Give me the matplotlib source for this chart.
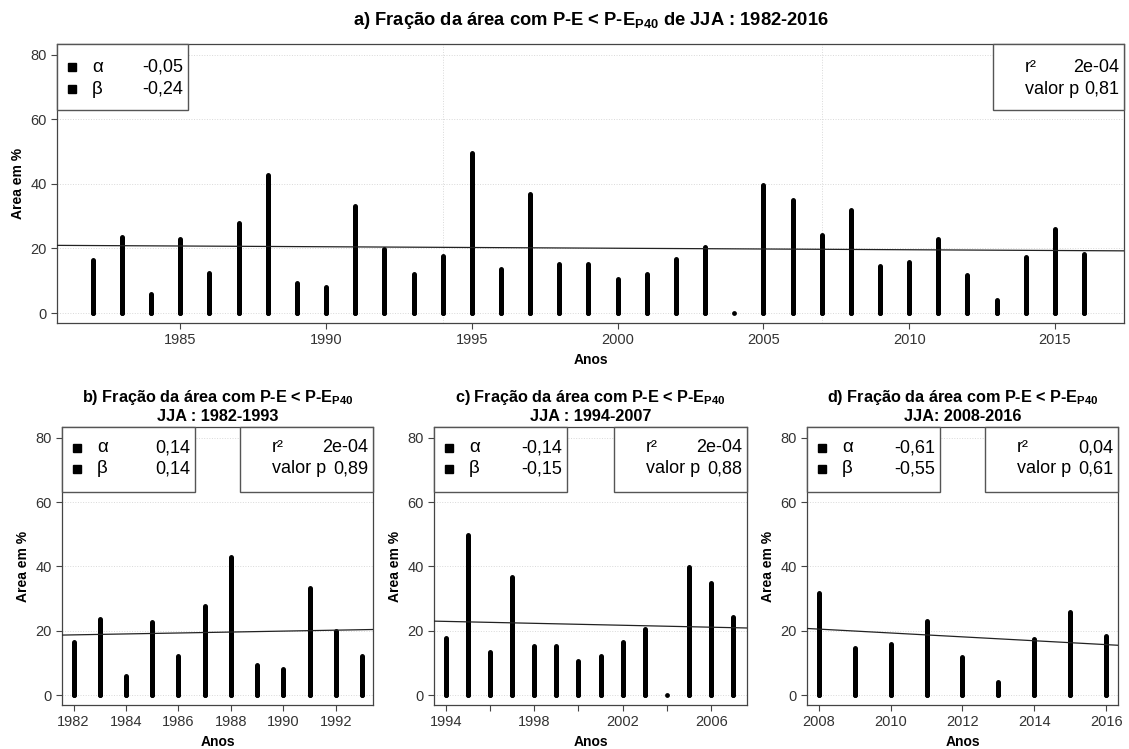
import numpy as np
import matplotlib
matplotlib.use('Agg')
import matplotlib.pyplot as plt
from matplotlib.patches import Rectangle

plt.rcParams['font.family'] = ['Liberation Sans', 'DejaVu Sans']
plt.rcParams['mathtext.fontset'] = 'custom'
plt.rcParams['mathtext.rm'] = 'Liberation Sans'
plt.rcParams['mathtext.bf'] = 'Liberation Sans:bold'

# Fraction of area (%) per year, JJA
anos = np.arange(1982, 2017)
area = np.array([16.4, 23.7, 5.9, 22.8, 12.3, 27.8, 42.8, 9.2, 8.2, 33.3, 19.9, 12.0,
                 17.8, 49.7, 13.5, 36.8, 15.3, 15.2, 10.6, 12.2, 16.6, 20.5, 0.0,
                 39.7, 35.0, 24.2,
                 31.9, 14.6, 15.9, 23.0, 11.8, 4.0, 17.5, 25.9, 18.3])

# sub-periods
periodos = [(1982, 2016), (1982, 1993), (1994, 2007), (2008, 2016)]
titulos = [
    r'a) Fração da área com P-E < P-E$_{\mathbf{P40}}$ de JJA : 1982-2016',
    'b) Fração da área com P-E < P-E$_{\\mathbf{P40}}$\nJJA : 1982-1993',
    'c) Fração da área com P-E < P-E$_{\\mathbf{P40}}$\nJJA : 1994-2007',
    'd) Fração da área com P-E < P-E$_{\\mathbf{P40}}$\nJJA: 2008-2016',
]
alfa = ['-0,05', '0,14', '-0,14', '-0,61']
beta = ['-0,24', '0,14', '-0,15', '-0,55']
r2 = ['2e-04', '2e-04', '2e-04', '0,04']
valor_p = ['0,81', '0,89', '0,88', '0,61']
xlims = [(1980.77, 2017.37), (1981.56, 1993.42), (1993.47, 2007.62), (2007.68, 2016.32)]
xticks = [np.arange(1985, 2016, 5), np.arange(1982, 1993, 2),
          np.arange(1994, 2008, 2), np.arange(2008, 2017, 2)]

W, H = 1129, 749
fig = plt.figure(figsize=(W / 100, H / 100), dpi=100)

# axes boxes in pixels: left, top, right, bottom
caixas = [(57, 44, 1124, 323), (62, 427, 373, 705), (434, 427, 747, 705), (807, 427, 1118, 705)]

grey = '#333333'


def legend_boxes(ax, wpx, hpx, i):
    bw, bh = (131, 66) if i == 0 else (133, 65)
    y0, dy = (23, 22) if i == 0 else (21, 20.5)
    sx = lambda p: p / wpx
    sy = lambda p: 1 - p / hpx
    kw = dict(transform=ax.transAxes, fontsize=13, va='center', zorder=6)
    # left box: alpha / beta
    ax.add_patch(Rectangle((0, sy(bh)), sx(bw), bh / hpx, transform=ax.transAxes,
                           facecolor='white', edgecolor='#555555', lw=1, zorder=5,
                           clip_on=False))
    for row, (sym, val) in enumerate([('α', alfa[i]), ('β', beta[i])]):
        yy = sy(y0 + dy * row)
        ax.plot([sx(15)], [yy], marker='s', ms=5.5, color='black',
                transform=ax.transAxes, zorder=6, clip_on=False)
        ax.text(sx(35), yy, sym, ha='left', fontsize=13.5, transform=ax.transAxes,
                va='center', zorder=6)
        ax.text(sx(bw - 5), yy, val, ha='right', **kw)
    # right box: r2 / p value
    ax.add_patch(Rectangle((1 - sx(bw), sy(bh)), sx(bw), bh / hpx, transform=ax.transAxes,
                           facecolor='white', edgecolor='#555555', lw=1, zorder=5,
                           clip_on=False))
    x0 = 1 - sx(bw)
    for row, (lab, val) in enumerate([('r²', r2[i]), ('valor p', valor_p[i])]):
        yy = sy(y0 + dy * row)
        ax.text(x0 + sx(32), yy, lab, ha='left', **kw)
        ax.text(1 - sx(5), yy, val, ha='right', **kw)


for i, (ini, fim) in enumerate(periodos):
    l, t, r, b = caixas[i]
    ax = fig.add_axes([l / W, (H - b) / H, (r - l) / W, (b - t) / H])
    sel = (anos >= ini) & (anos <= fim)
    x, y = anos[sel], area[sel]

    ax.vlines(x, 0, y, color='black', lw=3.6, capstyle='round', zorder=3)
    ax.scatter(x, np.zeros_like(y), s=12, color='black', zorder=3, lw=0)

    # linear trend
    coef = np.polyfit(x, y, 1)
    xx = np.array(xlims[i])
    ax.plot(xx, np.polyval(coef, xx), color='#222222', lw=0.9, zorder=4)

    ax.set_xlim(*xlims[i])
    ax.set_ylim(-3.1, 83.4)
    ax.set_yticks([0, 20, 40, 60, 80])
    ax.set_xticks(xticks[i])
    if i == 2:
        ax.set_xticklabels([str(v) if (v - 1994) % 4 == 0 else '' for v in xticks[i]])
    ax.grid(axis='y', color='#d9d9d9', lw=0.7, ls=':')
    if i == 0:
        for v in (1994, 2007):
            ax.axvline(v, color='#d9d9d9', lw=0.7, ls=':', zorder=0)
    ax.set_axisbelow(True)
    for s in ax.spines.values():
        s.set_color('#444444')
        s.set_linewidth(0.9)
    ax.tick_params(colors='#444444', labelcolor=grey, labelsize=10.5, length=4, width=0.8)

    ax.set_xlabel('Anos', fontsize=10, fontweight='bold', labelpad=4)
    ax.set_ylabel('Area em %', fontsize=10, fontweight='bold', labelpad=4)
    if i == 0:
        ax.set_title(titulos[i], fontsize=13.2, fontweight='bold', pad=13.5)
    else:
        ax.set_title(titulos[i], fontsize=11.7, fontweight='bold', pad=4, linespacing=1.2)

    legend_boxes(ax, r - l, b - t, i)

fig.savefig('out.png', dpi=100)
